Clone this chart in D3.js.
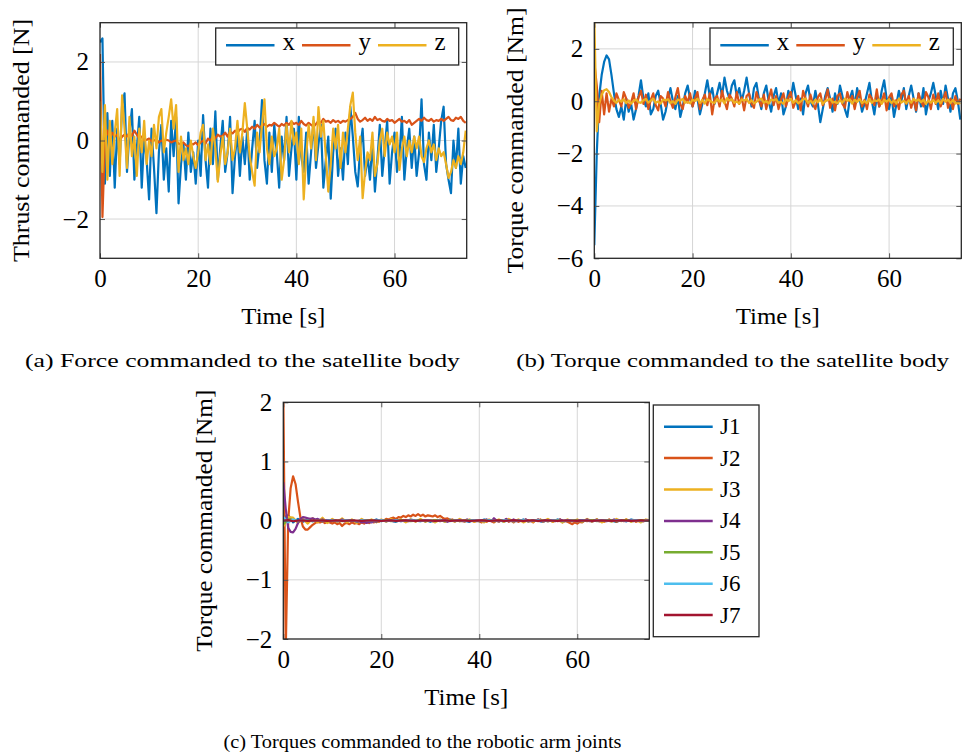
<!DOCTYPE html>
<html>
<head>
<meta charset="utf-8">
<script src="https://cdn.jsdelivr.net/npm/d3@7"></script>
<style>
  body { margin: 0; background: #fff; }
  svg text { font-family: "Liberation Serif", "DejaVu Serif", serif; fill: #000; }
</style>
</head>
<body>
<div id="figure"></div>
<script>
var svgWidth = 972;
var svgHeight = 753;

// MATLAB default line colours
var colors = ["#0072BD", "#D95319", "#EDB120", "#7E2F8E", "#77AC30", "#4DBEEE", "#A2142F"];

// sampling of the logged signals [s]
var dtFast = 0.5;
var dtSlow = 1;
var timeMax = 74.7;
var timeTicks = [0, 20, 40, 60];

// (a) thrust commanded [N], one value every 0.5 s
var forceX = [
  2.5, 2.6, -1.1, 0.7, -0.9, 0.5, -1.2, 0.3, -0.6, 0.9,
  1.2, -0.8, 0.2, 0.8, -1.0, -0.2, 0.6, -1.2, 0.1, -0.5,
  -1.5, 0.3, -0.7, -1.85, -0.3, 0.4, -1.0, -0.2, -1.3, 0.5,
  -0.4, 0.6, -1.6, -0.6, -0.1, -1.0, 0.2, -0.8, -0.3, -1.1,
  0.0, -0.9, 0.65, -0.5, -1.2, 0.3, -0.6, 0.74, -1.0, -0.2,
  0.5, -0.8, -0.3, 0.6, -1.34, -0.4, 0.2, -0.9, 0.1, -0.6,
  0.3, -1.0, -0.2, 0.5, -0.7, -0.1, 1.03, -0.5, -1.1, 0.2,
  -0.8, 0.4, -0.3, -1.2, 0.1, -0.5, 0.6, -0.9, -0.2, 0.3,
  -1.0, 0.6, -0.4, -0.8, 0.2, -1.1, -0.3, 0.5, -0.7, -0.1,
  0.4, -1.2, -0.5, 0.1, -1.48, -0.3, 0.3, -0.9, -0.2, -1.0,
  0.2, -0.6, 0.86, 0.1, -0.8, -1.17, -0.2, 0.3, -0.9, -0.4,
  -1.0, 0.0, -1.3, -0.5, 0.4, -0.9, -0.2, 0.5, -1.1, -0.3,
  0.2, -0.8, -0.4, 0.6, -1.0, -0.2, 0.3, -0.7, 0.1, -0.9,
  -0.3, 1.05, -0.6, -1.0, 0.2, -0.5, 0.4, -0.8, -0.2, 0.5,
  0.86, -0.6, -1.0, -1.34, 0.0, -0.7, 0.3, -1.1, -0.4, -0.7
];
var forceY = [
  2.2, -1.95, 0.0, 0.25, 0.05, 0.2, 0.1, 0.15, 0.0, 0.1,
  0.15, 0.1, 0.2, 0.12, 0.25, 0.15, 0.05, 0.1, 0.0, 0.02,
  0.05, -0.02, 0.0, 0.03, -0.05, 0.0, -0.03, 0.02, 0.0, -0.05,
  -0.02, 0.0, -0.08, -0.1, -0.05, -0.12, -0.15, -0.08, -0.1, -0.05,
  -0.12, -0.05, 0.0, -0.08, 0.05, 0.0, 0.1, 0.05, 0.15, 0.1,
  0.12, 0.2, 0.1, 0.22, 0.18, 0.25, 0.2, 0.28, 0.3, 0.22,
  0.32, 0.28, 0.35, 0.3, 0.4, 0.33, 0.38, 0.42, 0.35, 0.4,
  0.38, 0.45, 0.4, 0.35, 0.42, 0.38, 0.45, 0.4, 0.48, 0.42,
  0.45, 0.4, 0.5, 0.42, 0.38, 0.45, 0.4, 0.35, 0.42, 0.5,
  0.45, 0.55, 0.48, 0.5, 0.45, 0.52, 0.47, 0.5, 0.45, 0.5,
  0.48, 0.52, 0.55, 0.6, 0.7, 0.55, 0.48, 0.52, 0.58, 0.5,
  0.55, 0.5, 0.6, 0.52, 0.55, 0.5, 0.48, 0.55, 0.5, 0.52,
  0.45, 0.5, 0.55, 0.48, 0.5, 0.45, 0.52, 0.4, 0.45, 0.5,
  0.55, 0.5, 0.58, 0.52, 0.5, 0.55, 0.48, 0.52, 0.5, 0.55,
  0.5, 0.55, 0.6, 0.52, 0.5, 0.58, 0.55, 0.6, 0.5, 0.45
];
var forceZ = [
  1.0, -0.8, 0.9, -1.0, 0.5, -0.6, 0.2, 0.8, -0.9, 1.15,
  0.3, -0.7, 0.6, -0.4, 0.1, -0.9, 0.3, -0.3, 0.5, -0.6,
  0.0, -0.4, 0.4, -0.2, 0.6, 0.8, -0.3, 0.2, 0.6, 1.05,
  0.3, 0.9, -0.8, 0.1, -0.5, -0.2, -0.6, 0.0, -0.4, -0.7,
  -0.3, 0.2, 0.4, -0.5, -0.1, -0.6, 0.3, -0.2, -1.05, -0.4,
  0.1, -0.6, -0.3, 0.3, -0.5, -0.2, 0.5, -0.3, 0.2, 0.95,
  0.3, -0.4, -0.8, -1.15, 0.2, -0.3, 0.4, 1.05, -0.2, -0.6,
  0.1, -0.4, -0.2, 0.3, -1.0, -0.5, 0.4, -0.3, 0.5, -0.1,
  0.2, -0.6, 0.3, -1.5, -0.4, 0.4, -0.2, 0.6, -0.5, 0.85,
  0.1, 0.5, -0.4, -1.3, -0.6, 0.3, -0.2, 0.4, -0.7, 0.2,
  -0.3, 0.3, 0.9, 1.22, 0.2, -0.5, 0.1, -1.47, -0.8, -0.3,
  -0.5, 0.2, -0.9, -0.6, 0.0, 0.3, -0.4, 0.2, -0.1, 0.1,
  -0.3, 0.2, -0.75, -0.2, 0.1, -0.4, 0.0, -0.3, 0.1, -0.2,
  0.1, -0.4, -0.55, -0.2, 0.0, -0.3, -0.1, -0.5, -0.2, -0.4,
  -0.3, -0.6, -0.95, -0.8, -0.5, -0.7, -0.4, -0.6, -0.3, 0.25
];

// (b) torque commanded to the body [Nm], every 0.5 s
var torqueX = [
  -5.5, -2.0, 0.2, 1.0, 1.5, 1.75, 1.6, 1.0, 0.3, -0.3,
  -0.6, -0.2, -0.7, 0.1, -0.4, -0.1, -0.7, -0.3, 0.2, 0.8,
  0.1, -0.2, 0.3, -0.5, -0.3, 0.2, 0.4, -0.1, -0.7, -0.4,
  0.1, 0.5, 0.0, -0.3, 0.2, -0.6, -0.2, 0.3, 0.6, 0.1,
  -0.2, 0.4, 0.1, -0.5, -0.1, 0.3, 0.8, 0.2, 0.5, -0.1,
  0.3, 0.7, 0.2, 0.9, 0.4, 0.1, 0.6, 0.8, 0.2, 0.5,
  0.0, 0.4, 0.9, 0.3, -0.2, 0.5, 0.7, 0.1, -0.3, 0.3,
  0.6, 0.0, -0.4, 0.2, 0.5, -0.1, 0.3, -0.5, -0.2, 0.4,
  0.1, 0.7, 0.2, -0.3, 0.1, -0.5, 0.3, 0.6, 0.0, -0.2,
  0.4, -0.1, -0.8, -0.3, 0.2, 0.5, 0.1, -0.4, 0.3, -0.1,
  0.6, 0.2, -0.3, -0.6, 0.1, 0.4, -0.2, 0.5, 0.1, -0.4,
  -0.1, 0.3, 0.7, 0.0, -0.5, 0.2, -0.2, 0.4, 0.8, 0.1,
  -0.3, 0.2, -0.6, -0.1, 0.4, 0.0, 0.5, -0.3, 0.2, 0.6,
  0.1, -0.4, 0.3, -0.2, 0.5, -0.5, 0.0, 0.3, 0.7, 0.2,
  -0.3, 0.4, -0.1, 0.6, 0.1, -0.4, 0.3, 0.5, 0.0, -0.7
];
var torqueY = [
  1.5, 0.6, -0.8, 0.4, -0.5, 0.3, -0.4, 0.1, -0.2, 0.3,
  0.05, -0.2, 0.35, 0.1, -0.25, -0.05, 0.3, -0.3, 0.15, 0.4,
  -0.1, 0.25, -0.3, 0.05, 0.3, -0.15, -0.35, 0.2, 0.1, -0.2,
  0.35, 0.0, -0.25, 0.15, 0.5, -0.1, -0.3, 0.2, -0.05, 0.3,
  -0.2, 0.1, 0.35, -0.3, 0.05, 0.25, -0.15, 0.3, -0.5, 0.1,
  0.2, -0.2, 0.4, 0.0, -0.3, 0.25, 0.1, -0.2, 0.35, -0.1,
  0.15, -0.35, 0.2, 0.3, -0.1, -0.25, 0.35, 0.05, -0.2, 0.25,
  -0.3, 0.1, 0.45, -0.15, 0.2, -0.3, 0.05, 0.3, -0.2, 0.15,
  0.35, -0.25, 0.0, 0.2, -0.35, 0.4, 0.1, -0.2, 0.25, -0.1,
  -0.3, 0.15, 0.3, -0.15, 0.05, 0.45, -0.25, 0.1, -0.35, 0.2,
  0.3, -0.1, -0.25, 0.35, 0.0, 0.2, -0.3, 0.15, 0.4, -0.2,
  0.05, -0.3, 0.25, 0.1, -0.15, 0.45, -0.2, 0.0, 0.3, -0.35,
  0.15, 0.3, -0.2, 0.05, -0.3, 0.25, 0.4, -0.1, 0.2, -0.25,
  0.1, -0.35, 0.3, 0.0, -0.2, 0.35, 0.15, -0.3, 0.25, -0.1,
  0.3, -0.2, 0.05, 0.35, -0.25, 0.1, -0.3, 0.2, -0.1, 0.1
];
var torqueZ = [
  3.2, -1.15, -0.1, 0.25, 0.42, 0.46, 0.35, 0.15, 0.02, -0.06,
  0.06, -0.02, 0.08, -0.07, 0.03, -0.09, 0.01, 0.07, -0.04, -0.06,
  0.04, 0.09, -0.05, 0.02, 0.1, -0.06, -0.01, -0.09, 0.06, 0.03,
  0.08, -0.07, 0.0, -0.1, 0.07, 0.02, 0.09, -0.06, -0.03, -0.08,
  0.06, 0.01, 0.1, -0.07, 0.05, -0.09, 0.08, 0.02, -0.04, -0.07,
  0.09, -0.02, 0.07, -0.08, 0.12, 0.03, 0.08, -0.06, -0.01, -0.09,
  0.07, 0.02, 0.09, -0.07, 0.04, -0.08, -0.02, 0.06, 0.1, -0.06,
  0.01, -0.09, 0.07, 0.03, 0.08, -0.06, -0.02, -0.1, 0.07, 0.0,
  0.09, -0.06, 0.04, -0.08, -0.01, 0.07, 0.1, -0.07, 0.02, -0.09,
  0.06, -0.04, 0.08, -0.1, 0.0, 0.05, 0.09, -0.05, -0.02, -0.08,
  0.04, -0.06, 0.1, 0.02, 0.07, -0.09, 0.06, -0.03, 0.08, -0.07,
  0.01, -0.08, 0.09, -0.06, 0.04, 0.0, 0.07, -0.1, 0.06, -0.02,
  0.08, -0.07, 0.03, -0.09, 0.1, -0.05, 0.02, -0.08, 0.04, -0.06,
  0.09, 0.01, 0.07, -0.04, 0.06, -0.1, 0.03, -0.06, 0.05, -0.07,
  0.04, -0.08, 0.09, -0.02, 0.06, -0.07, 0.05, -0.09, -0.05, -0.1
];

// (c) joint torques [Nm]; J2 and J4 every 0.5 s, the rest every 1 s
var jointJ1 = [
  0.05, 0.09, -0.03, 0.03, -0.02, 0.02, -0.01, 0.02, -0.02, 0.01,
  0.0, -0.01, 0.02, -0.01, 0.01, -0.02, 0.01, 0.0, -0.01, 0.02,
  -0.01, 0.01, 0.0, -0.02, 0.01, -0.01, 0.02, 0.0, -0.01, 0.01,
  -0.02, 0.01, 0.0, -0.01, 0.02, -0.01, 0.01, 0.0, -0.02, 0.01,
  -0.01, 0.02, 0.0, -0.01, 0.01, -0.02, 0.01, 0.0, -0.01, 0.02,
  -0.01, 0.01, 0.0, -0.02, 0.01, -0.01, 0.02, 0.0, -0.01, 0.01,
  -0.02, 0.01, 0.0, -0.01, 0.02, -0.01, 0.01, 0.0, -0.02, 0.01,
  -0.01, 0.02, 0.0, -0.01, 0.01, 0.0
];
var jointJ2 = [
  2.2, -2.2, 0.0, 0.55, 0.75, 0.62, 0.32, 0.05, -0.1, -0.15,
  -0.15, -0.11, -0.07, -0.04, -0.02, -0.03, -0.01, -0.04, -0.02, -0.03,
  -0.05, -0.03, -0.06, -0.04, -0.09, -0.05, -0.04, -0.06, -0.03, -0.05,
  -0.04, -0.06, -0.03, -0.05, -0.02, -0.04, -0.01, -0.03, 0.0, -0.02,
  0.01, 0.0, 0.03, 0.02, 0.04, 0.05, 0.03, 0.06, 0.05, 0.08,
  0.06, 0.09, 0.07, 0.1, 0.08, 0.11, 0.08, 0.1, 0.07, 0.09,
  0.08, 0.07, 0.09, 0.06, 0.08, 0.05, 0.03, 0.04, 0.01, 0.02,
  0.0, 0.01, -0.01, 0.0, -0.02, 0.01, -0.01, 0.0, -0.02, 0.01,
  -0.01, -0.03, 0.0, -0.02, 0.01, -0.01, -0.03, 0.0, -0.02, 0.01,
  -0.01, 0.02, -0.02, 0.0, -0.03, 0.01, -0.02, 0.0, -0.01, 0.02,
  -0.02, 0.0, -0.03, 0.01, -0.01, 0.02, -0.02, 0.0, -0.01, 0.01,
  -0.02, 0.01, -0.01, 0.02, -0.03, 0.0, -0.02, -0.04, -0.06, -0.03,
  -0.05, -0.02, -0.03, 0.0, -0.01, 0.01, -0.02, 0.0, 0.02, -0.01,
  0.01, -0.02, 0.0, 0.02, -0.01, 0.01, -0.02, 0.0, 0.01, -0.01,
  0.02, 0.0, -0.01, 0.01, -0.02, 0.0, 0.01, -0.01, 0.0, 0.01
];
var jointJ3 = [
  -0.1, 0.06, 0.05, -0.04, 0.03, -0.05, 0.04, -0.03, 0.05, -0.04,
  0.03, -0.02, 0.04, -0.03, 0.02, -0.04, 0.03, -0.02, 0.02, -0.03,
  0.02, -0.02, 0.03, -0.01, 0.02, -0.03, 0.02, -0.02, 0.03, -0.02,
  0.01, -0.03, 0.02, -0.02, 0.01, -0.02, 0.03, -0.01, 0.02, -0.02,
  0.01, -0.03, 0.02, -0.01, 0.02, -0.02, 0.03, -0.01, 0.02, -0.03,
  0.01, -0.02, 0.02, -0.01, 0.03, -0.02, 0.01, -0.03, 0.02, -0.01,
  0.02, -0.02, 0.03, -0.01, 0.02, -0.03, 0.01, -0.02, 0.03, -0.01,
  0.02, -0.02, 0.01, -0.03, 0.02, 0.0
];
var jointJ4 = [
  0.65, 0.2, -0.12, -0.19, -0.2, -0.14, -0.04, 0.03, 0.06, 0.05,
  0.04, 0.03, 0.04, 0.02, 0.03, 0.01, 0.02, 0.0, 0.01, -0.01,
  0.0, 0.01, -0.01, 0.0, 0.02, -0.01, 0.0, 0.01, -0.01, 0.0,
  -0.02, -0.01, -0.03, -0.02, -0.04, -0.02, -0.03, -0.01, -0.02, 0.0,
  0.01, 0.0, -0.01, 0.01, 0.0, -0.01, 0.01, 0.0, -0.01, 0.0,
  0.01, -0.01, 0.0, 0.01, -0.01, 0.0, 0.01, 0.0, -0.01, 0.01,
  0.0, -0.01, 0.01, 0.0, -0.01, 0.01, 0.0, -0.02, 0.0, 0.01,
  -0.01, 0.0, 0.01, -0.01, 0.0, 0.02, -0.01, 0.0, 0.01, -0.01,
  0.0, 0.01, -0.01, 0.02, 0.0, -0.01, 0.04, 0.0, -0.01, 0.01,
  0.0, 0.03, -0.01, 0.0, 0.02, -0.01, 0.01, 0.0, -0.01, 0.02,
  0.0, -0.01, 0.01, 0.0, 0.02, -0.01, 0.0, 0.01, -0.01, 0.0,
  0.01, -0.01, 0.0, 0.02, 0.0, -0.01, 0.01, 0.0, -0.01, 0.01,
  0.0, 0.01, -0.01, 0.0, 0.02, -0.01, 0.0, 0.01, 0.0, -0.01,
  0.01, 0.0, -0.01, 0.01, 0.0, 0.02, -0.01, 0.0, 0.01, 0.0,
  -0.01, 0.01, 0.0, -0.01, 0.01, 0.0, 0.01, -0.01, 0.0, 0.01
];
var jointJ5 = [
  -0.06, 0.02, 0.01, -0.01, 0.01, 0.0, -0.01, 0.01, 0.0, -0.01,
  0.01, 0.0, -0.01, 0.0, 0.01, -0.01, 0.0, 0.01, 0.0, -0.01,
  0.0, 0.01, -0.01, 0.0, 0.01, 0.0, -0.01, 0.0, 0.01, -0.01,
  0.0, 0.01, 0.0, -0.01, 0.0, 0.01, -0.01, 0.0, 0.01, 0.0,
  -0.01, 0.0, 0.01, -0.01, 0.0, 0.01, 0.0, -0.01, 0.0, 0.01,
  -0.01, 0.0, 0.01, 0.0, -0.01, 0.0, 0.01, -0.01, 0.0, 0.01,
  0.0, -0.01, 0.0, 0.01, -0.01, 0.0, 0.01, 0.0, -0.01, 0.0,
  0.01, -0.01, 0.0, 0.01, 0.0, 0.0
];
var jointJ6 = [
  0.06, -0.03, 0.02, -0.01, 0.01, 0.0, -0.01, 0.01, -0.01, 0.0,
  0.01, -0.01, 0.0, 0.01, 0.0, -0.01, 0.01, 0.0, -0.01, 0.0,
  0.01, -0.01, 0.0, 0.01, -0.01, 0.0, 0.01, 0.0, -0.01, 0.01,
  0.0, -0.01, 0.01, 0.0, -0.01, 0.0, 0.01, -0.01, 0.0, 0.01,
  0.0, -0.01, 0.01, 0.0, -0.01, 0.01, 0.0, -0.01, 0.0, 0.01,
  -0.01, 0.0, 0.01, -0.01, 0.0, 0.01, 0.0, -0.01, 0.01, 0.0,
  -0.01, 0.0, 0.01, -0.01, 0.0, 0.01, 0.0, -0.01, 0.01, 0.0,
  -0.01, 0.0, 0.01, -0.01, 0.0, 0.0
];
var jointJ7 = [
  0.0, 0.01, -0.01, 0.0, 0.005, -0.005, 0.0, 0.005, 0.0, -0.005,
  0.0, 0.005, -0.005, 0.0, 0.005, 0.0, -0.005, 0.0, 0.005, 0.0,
  -0.005, 0.0, 0.005, -0.005, 0.0, 0.005, 0.0, -0.005, 0.0, 0.005,
  0.0, -0.005, 0.0, 0.005, -0.005, 0.0, 0.005, 0.0, -0.005, 0.0,
  0.005, 0.0, -0.005, 0.0, 0.005, -0.005, 0.0, 0.005, 0.0, -0.005,
  0.0, 0.005, -0.005, 0.0, 0.005, 0.0, -0.005, 0.0, 0.005, 0.0,
  -0.005, 0.0, 0.005, -0.005, 0.0, 0.005, 0.0, -0.005, 0.0, 0.005,
  0.0, -0.005, 0.0, 0.005, 0.0, 0.0
];

var svg = d3.select("#figure")
  .append("svg")
  .attr("width", svgWidth)
  .attr("height", svgHeight)
  .style("background", "#fff");

var panels = [
  {
    id: "a", left: 100, right: 466.7, top: 22.7, bottom: 258.3,
    yDomain: [-3, 3], yTicks: [-2, 0, 2],
    yLabel: "Thrust commanded [N]", yLabelX: 29, yLabelLen: 243,
    series: [
      { name: "x", values: forceX, dt: dtFast, color: colors[0] },
      { name: "y", values: forceY, dt: dtFast, color: colors[1] },
      { name: "z", values: forceZ, dt: dtFast, color: colors[2] }
    ],
    legend: "row", legendBox: [215.7, 28, 243, 37],
    caption: "(a) Force commanded to the satellite body", captionX: 242.5, captionY: 366.5, captionLen: 435
  },
  {
    id: "b", left: 594.3, right: 961.3, top: 22.7, bottom: 258.3,
    yDomain: [-6, 3], yTicks: [-6, -4, -2, 0, 2],
    yLabel: "Torque commanded [Nm]", yLabelX: 523, yLabelLen: 266,
    series: [
      { name: "x", values: torqueX, dt: dtFast, color: colors[0] },
      { name: "y", values: torqueY, dt: dtFast, color: colors[1] },
      { name: "z", values: torqueZ, dt: dtFast, color: colors[2] }
    ],
    legend: "row", legendBox: [710, 28, 243.3, 37],
    caption: "(b) Torque commanded to the satellite body", captionX: 732.7, captionY: 366.5, captionLen: 433
  },
  {
    id: "c", left: 283.3, right: 649.3, top: 402.3, bottom: 639,
    yDomain: [-2, 2], yTicks: [-2, -1, 0, 1, 2],
    yLabel: "Torque commanded [Nm]", yLabelX: 212, yLabelLen: 262,
    series: [
      { name: "J1", values: jointJ1, dt: dtSlow, color: colors[0] },
      { name: "J2", values: jointJ2, dt: dtFast, color: colors[1] },
      { name: "J3", values: jointJ3, dt: dtSlow, color: colors[2] },
      { name: "J4", values: jointJ4, dt: dtFast, color: colors[3] },
      { name: "J5", values: jointJ5, dt: dtSlow, color: colors[4] },
      { name: "J6", values: jointJ6, dt: dtSlow, color: colors[5] },
      { name: "J7", values: jointJ7, dt: dtSlow, color: colors[6] }
    ],
    legend: "column", legendBox: [653.3, 405, 105.7, 231.7],
    caption: "(c) Torques commanded to the robotic arm joints", captionX: 422.5, captionY: 748, captionLen: 398
  }
];

var serif = "Liberation Serif";

function drawPanel(p) {
  var g = svg.append("g").attr("class", "panel-" + p.id);

  var xScale = d3.scaleLinear().domain([0, timeMax]).range([p.left, p.right]);
  var yScale = d3.scaleLinear().domain(p.yDomain).range([p.bottom, p.top]);

  // grid
  var grid = g.append("g").attr("stroke", "#d6d6d6").attr("stroke-width", 1);
  grid.selectAll(".gx")
    .data(timeTicks.filter(d => d > 0))
    .enter()
    .append("line")
    .attr("x1", d => xScale(d)).attr("x2", d => xScale(d))
    .attr("y1", p.top).attr("y2", p.bottom);
  grid.selectAll(".gy")
    .data(p.yTicks.filter(d => d > p.yDomain[0] && d < p.yDomain[1]))
    .enter()
    .append("line")
    .attr("x1", p.left).attr("x2", p.right)
    .attr("y1", d => yScale(d)).attr("y2", d => yScale(d));

  // clipped data lines
  g.append("clipPath").attr("id", "clip-" + p.id)
    .append("rect")
    .attr("x", p.left).attr("y", p.top)
    .attr("width", p.right - p.left).attr("height", p.bottom - p.top);

  var lines = g.append("g").attr("clip-path", "url(#clip-" + p.id + ")");
  p.series.forEach(function(s) {
    var line = d3.line()
      .x((d, i) => xScale(i * s.dt))
      .y(d => yScale(d));
    lines.append("path")
      .datum(s.values)
      .attr("d", line)
      .attr("fill", "none")
      .attr("stroke", s.color)
      .attr("stroke-width", 2.2)
      .attr("stroke-linejoin", "round");
  });

  // axes (ticks pointing inwards, labels only bottom/left)
  var bottomAxis = d3.axisBottom(xScale).tickValues(timeTicks).tickSize(-5).tickPadding(11).tickFormat(d3.format("d"));
  var leftAxis = d3.axisLeft(yScale).tickValues(p.yTicks).tickSize(-5).tickPadding(11).tickFormat(d3.format("d"));
  var topAxis = d3.axisTop(xScale).tickValues(timeTicks).tickSize(-5).tickFormat("");
  var rightAxis = d3.axisRight(yScale).tickValues(p.yTicks).tickSize(-5).tickFormat("");

  [
    [bottomAxis, `translate(0, ${p.bottom})`],
    [leftAxis, `translate(${p.left}, 0)`],
    [topAxis, `translate(0, ${p.top})`],
    [rightAxis, `translate(${p.right}, 0)`]
  ].forEach(function(a) {
    var ax = g.append("g")
      .attr("transform", a[1])
      .call(a[0]);
    ax.select(".domain").remove();
    ax.attr("font-family", serif).attr("font-size", 25);
    ax.selectAll(".tick line").attr("stroke", "#555");
    ax.selectAll(".tick text").attr("fill", "#000");
  });

  // axis box
  g.append("rect")
    .attr("x", p.left).attr("y", p.top)
    .attr("width", p.right - p.left).attr("height", p.bottom - p.top)
    .attr("fill", "none")
    .attr("stroke", "#262626")
    .attr("stroke-width", 1.3);

  // axis labels
  g.append("text")
    .attr("x", (p.left + p.right) / 2)
    .attr("y", p.bottom + 65.7)
    .attr("text-anchor", "middle")
    .attr("font-size", 23.5)
    .attr("textLength", 84)
    .attr("lengthAdjust", "spacingAndGlyphs")
    .text("Time [s]");

  g.append("text")
    .attr("transform", `translate(${p.yLabelX}, ${(p.top + p.bottom) / 2}) rotate(-90)`)
    .attr("text-anchor", "middle")
    .attr("font-size", 23.5)
    .attr("textLength", p.yLabelLen)
    .attr("lengthAdjust", "spacingAndGlyphs")
    .text(p.yLabel);

  // legend
  var lb = p.legendBox;
  var legend = g.append("g");
  legend.append("rect")
    .attr("x", lb[0]).attr("y", lb[1])
    .attr("width", lb[2]).attr("height", lb[3])
    .attr("fill", "#fff")
    .attr("stroke", "#262626")
    .attr("stroke-width", 1.3);

  if (p.legend === "row") {
    var items = legend.selectAll(".item")
      .data(p.series)
      .enter()
      .append("g")
      .attr("transform", (d, i) => `translate(${lb[0] + 10.3 + 76 * i}, ${lb[1] + 17.3})`);
    items.append("line")
      .attr("x1", 0).attr("x2", 48.5)
      .attr("stroke", d => d.color)
      .attr("stroke-width", 2.5);
    items.append("text")
      .attr("x", 56.5).attr("y", 4.7)
      .attr("font-size", 25)
      .text(d => d.name);
  } else {
    var items = legend.selectAll(".item")
      .data(p.series)
      .enter()
      .append("g")
      .attr("transform", (d, i) => `translate(${lb[0] + 10.7}, ${lb[1] + 21.7 + 31.4 * i})`);
    items.append("line")
      .attr("x1", 0).attr("x2", 48.7)
      .attr("stroke", d => d.color)
      .attr("stroke-width", 2.5);
    items.append("text")
      .attr("x", 56).attr("y", 7.5)
      .attr("font-size", 23)
      .text(d => d.name);
  }

  // caption
  svg.append("text")
    .attr("x", p.captionX)
    .attr("y", p.captionY)
    .attr("text-anchor", "middle")
    .attr("font-size", 19)
    .attr("textLength", p.captionLen)
    .attr("lengthAdjust", "spacingAndGlyphs")
    .text(p.caption);
}

panels.forEach(drawPanel);
</script>
</body>
</html>
